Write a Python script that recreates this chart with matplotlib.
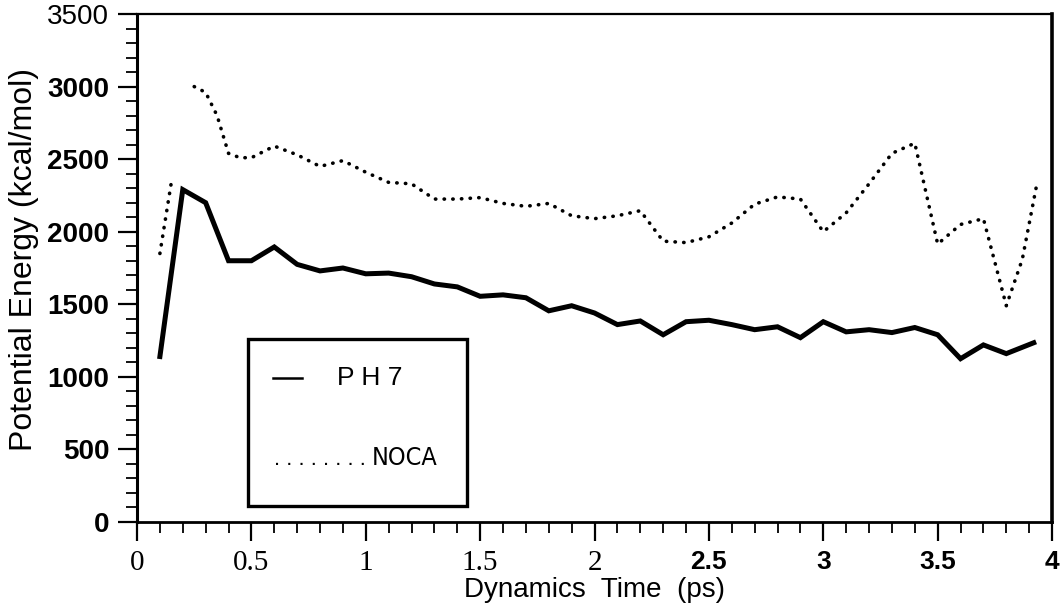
"""Potential energy vs dynamics time, PH7 vs NOCA (scanned figure redraw)."""
import matplotlib
matplotlib.use("Agg")
import matplotlib.pyplot as plt
from matplotlib.patches import Rectangle
from matplotlib.ticker import MultipleLocator

# PH7, sampled every 0.1 ps
ph7_t = [0.1, 0.2, 0.3, 0.4, 0.5, 0.6, 0.7, 0.8, 0.9, 1.0, 1.1, 1.2, 1.3, 1.4,
         1.5, 1.6, 1.7, 1.8, 1.9, 2.0, 2.1, 2.2, 2.3, 2.4, 2.5, 2.6, 2.7, 2.8,
         2.9, 3.0, 3.1, 3.2, 3.3, 3.4, 3.5, 3.6, 3.7, 3.8, 3.92]
ph7_e = [1140, 2290, 2200, 1800, 1800, 1895, 1775, 1730, 1750, 1710, 1715,
         1690, 1640, 1620, 1555, 1565, 1545, 1455, 1490, 1440, 1360, 1385,
         1290, 1380, 1390, 1360, 1325, 1345, 1270, 1380, 1310, 1325, 1305,
         1340, 1290, 1125, 1220, 1160, 1235]

# NOCA, two pieces (gap in the original trace)
noca_t1 = [0.1, 0.15]
noca_e1 = [1850, 2340]
noca_t2 = [0.25, 0.3, 0.35, 0.4, 0.45, 0.5, 0.6, 0.7, 0.8, 0.9, 1.0, 1.1,
           1.2, 1.3, 1.4, 1.5, 1.6, 1.7, 1.8, 1.9, 2.0, 2.1, 2.2, 2.3, 2.4,
           2.5, 2.6, 2.7, 2.8, 2.9, 3.0, 3.1, 3.2, 3.3, 3.4, 3.5, 3.6, 3.7,
           3.8, 3.87, 3.93]
noca_e2 = [3000, 2960, 2800, 2540, 2510, 2510, 2590, 2530, 2450, 2490, 2410,
           2340, 2330, 2225, 2225, 2235, 2195, 2175, 2195, 2110, 2090, 2110,
           2145, 1935, 1925, 1965, 2060, 2190, 2240, 2225, 2000, 2130, 2330,
           2540, 2610, 1915, 2050, 2090, 1490, 1810, 2300]

xtick_vals = [0, 0.5, 1, 1.5, 2, 2.5, 3, 3.5, 4]
xtick_text = ["0", "0.5", "1", "1.5", "2", "2.5", "3", "3.5", "4"]
ytick_vals = [0, 500, 1000, 1500, 2000, 2500, 3000, 3500]

SANS = "Liberation Sans"
SERIF = "Liberation Serif"

fig = plt.figure(figsize=(10.63, 6.10), dpi=100)
ax = fig.add_axes([0.1289, 0.1443, 0.8608, 0.8327])

ax.plot(ph7_t, ph7_e, color="black", lw=3.6, solid_joinstyle="miter")
for t, e in ((noca_t1, noca_e1), (noca_t2, noca_e2)):
    ax.plot(t, e, color="black", lw=2.6, linestyle=(0, (0.1, 2.3)),
            dash_capstyle="round")

ax.set_xlim(0, 4)
ax.set_ylim(0, 3500)

for side, lw in (("left", 2.2), ("bottom", 2.0), ("top", 1.6), ("right", 2.6)):
    ax.spines[side].set_linewidth(lw)

ax.set_xticks(xtick_vals)
ax.set_xticklabels(xtick_text)
ax.set_yticks(ytick_vals)
ax.xaxis.set_minor_locator(MultipleLocator(0.1))
ax.yaxis.set_minor_locator(MultipleLocator(100))
ax.tick_params(which="major", direction="out", length=14, width=1.6, pad=6)
ax.tick_params(which="minor", direction="out", length=8, width=1.3)

for lab, v in zip(ax.get_xticklabels(), xtick_vals):
    if v <= 2:
        lab.set_fontfamily(SERIF)
        lab.set_fontsize(21)
    else:
        lab.set_fontfamily(SANS)
        lab.set_fontweight("bold")
        lab.set_fontsize(19)
for lab, v in zip(ax.get_yticklabels(), ytick_vals):
    lab.set_fontfamily(SANS)
    lab.set_fontsize(20)
    lab.set_fontweight("normal" if v == 3500 else "bold")

ax.set_xlabel("Dynamics  Time  (ps)", fontfamily=SANS, fontsize=20, labelpad=1)
ax.set_ylabel("Potential Energy (kcal/mol)", fontfamily=SANS, fontsize=23)
ax.yaxis.set_label_coords(-0.107, 0.516)

# hand-drawn legend box, as in the original
ax.add_patch(Rectangle((0.121, 0.031), 0.240, 0.329, transform=ax.transAxes,
                       fill=False, lw=2.4, color="black", zorder=3))
ax.plot([0.149, 0.180], [0.283, 0.283], transform=ax.transAxes,
        color="black", lw=1.8)
ax.text(0.219, 0.283, "P H 7", transform=ax.transAxes, fontfamily=SANS,
        fontsize=19, va="center", ha="left")
ax.text(0.150, 0.112, ". . . . . . . .", transform=ax.transAxes,
        fontfamily=SANS, fontsize=16, va="baseline", ha="left")
ax.text(0.257, 0.112, "NOCA", transform=ax.transAxes,
        fontfamily="DejaVu Sans", fontstretch="condensed", fontsize=18,
        va="baseline", ha="left")

fig.savefig("out.png", dpi=100)
